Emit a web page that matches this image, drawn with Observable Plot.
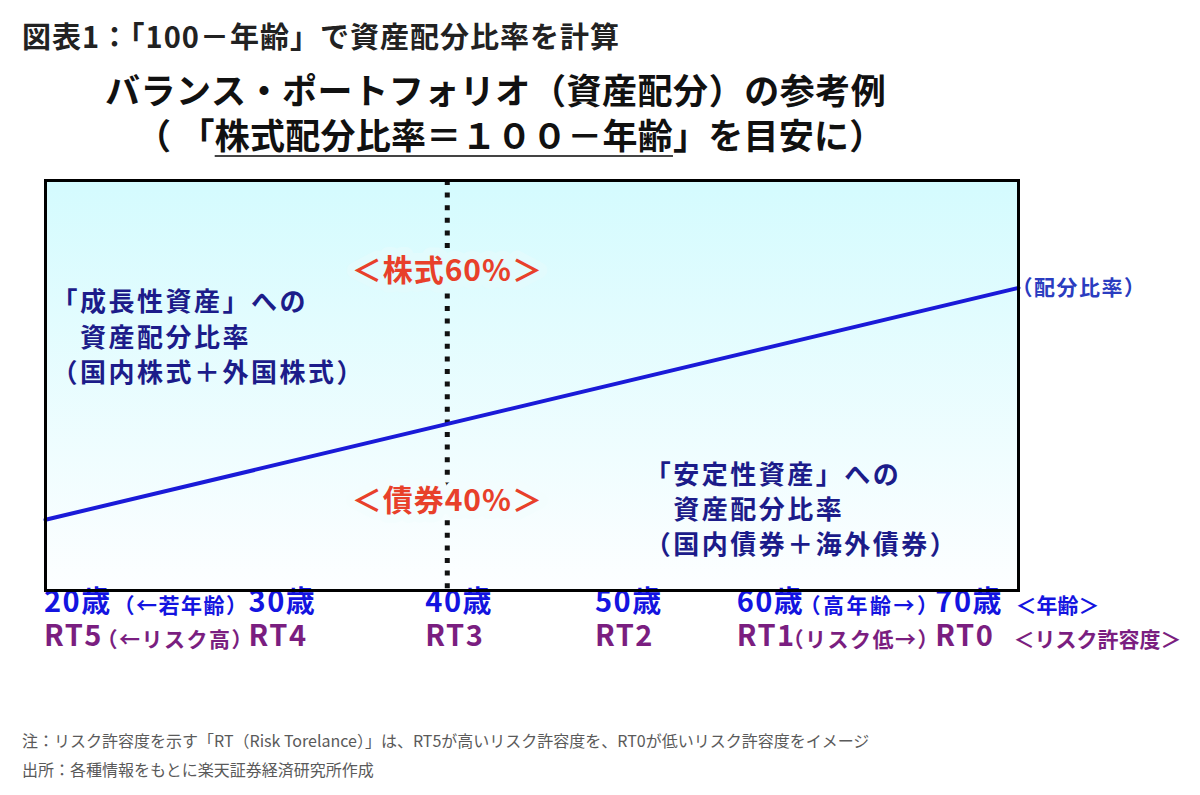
<!DOCTYPE html>
<html><head><meta charset="utf-8">
<script src="https://cdn.jsdelivr.net/npm/d3@7"></script>
<script src="https://cdn.jsdelivr.net/npm/@observablehq/plot@0.6"></script>
<style>
html,body{margin:0;padding:0;background:#fff;}
body{width:1200px;height:795px;position:relative;overflow:hidden;font-family:"Noto Sans CJK JP","Noto Sans",sans-serif;}
.abs{position:absolute;white-space:nowrap;line-height:1;}
#title{left:22px;top:21px;font-size:29px;font-weight:700;color:#222;letter-spacing:1px;}
#sub1{left:105px;top:71px;font-size:35px;font-weight:700;color:#111;letter-spacing:0.55px;}
#sub2{left:136px;top:116px;font-size:35px;font-weight:700;color:#111;letter-spacing:0.25px;}
#sub2 u{text-decoration:underline;text-decoration-thickness:2px;text-underline-offset:6px;text-decoration-color:#444;}
#chart{position:absolute;left:0;top:160px;}
.note{left:22px;font-size:16px;color:#5a5a5a;}
#note1{top:732px;} #note2{top:761px;}
</style></head><body>
<div id="title" class="abs"></div>
<div id="sub1" class="abs"></div>
<div id="sub2" class="abs"></div>
<div id="chart"></div>
<div id="note1" class="abs note"></div>
<div id="note2" class="abs note"></div>
<script>
// ---- data ----
const titleText = "図表1：「100－年齢」で資産配分比率を計算";
const subtitle1 = "バランス・ポートフォリオ（資産配分）の参考例";
const subtitle2 = ["（ 「", "株式配分比率＝１００－年齢", "」を目安に）"];
const noteText = "注：リスク許容度を示す「RT（Risk Torelance）」は、RT5が高いリスク許容度を、RT0が低いリスク許容度をイメージ";
const sourceText = "出所：各種情報をもとに楽天証券経済研究所作成";

const lineAges = [17, 72.7];        // age at left and right edge of the box
const stockPct = [83, 27.3];        // stock share (100 - age)
const splitAge = [40];
const stockLabel = "＜株式60%＞";
const bondLabel = "＜債券40%＞";
const growthLines = ["「成長性資産」への", "　資産配分比率", "（国内株式＋外国株式）"];
const stableLines = ["「安定性資産」への", "　資産配分比率", "（国内債券＋海外債券）"];
const lineLabel = "（配分比率）";

const ageTicks = [20, 30, 40, 50, 60, 70];
const ageLabels = ["20歳", "30歳", "40歳", "50歳", "60歳", "70歳"];
const rtLabels = ["RT5", "RT4", "RT3", "RT2", "RT1", "RT0"];
const ageNotes = ["（←若年齢）", "（高年齢→）", "＜年齢＞"];
const rtNotes = ["（←リスク高）", "（リスク低→）", "＜リスク許容度＞"];

// ---- layout (pixels / annotation anchors) ----
const tickDx = [-54, -24, -22, -27, -60, -36];
const ageNoteDx = [68, 754, 970];
const ageNoteLs = ["1.5px", "2.5px", "0px"];
const rtNoteDx = [51, 737, 968];
const rtNoteLs = ["1.5px", "1.5px", "0px"];
const annot = {
  stock: {x: 40, y: 23.4},
  bond: {x: 40, y: 78.6},
  growth: {x: 17.34, y: 38.7},
  stable: {x: 51.3, y: 80.1}
};

document.getElementById("title").textContent = titleText;
document.getElementById("sub1").textContent = subtitle1;
const s2 = document.getElementById("sub2");
s2.append(subtitle2[0]);
const u = document.createElement("u"); u.textContent = subtitle2[1]; s2.append(u);
s2.append(subtitle2[2]);
document.getElementById("note1").textContent = noteText;
document.getElementById("note2").textContent = sourceText;

const FONT = "Noto Sans CJK JP";
const BLUE = "#1414e0", PURPLE = "#7a1e80", NAVY = "#1c1c8a", RED = "#e8402a";
const lineData = lineAges.map((a, i) => ({age: a, stock: stockPct[i]}));

const marks = [
  Plot.frame({fill: "url(#bgGrad)"}),
  Plot.ruleX(splitAge, {stroke: "#111", strokeWidth: 5, strokeDasharray: "5 7.6"}),
  Plot.line(lineData, {x: "age", y: "stock", stroke: "#1a1ad8", strokeWidth: 4}),
  Plot.text([stockLabel], {x: () => annot.stock.x, y: () => annot.stock.y, text: d => d, fill: RED, fontSize: 30, fontWeight: 700, fontFamily: FONT, stroke: "#e2fbfd", strokeWidth: 16, ariaDescription: "ls1"}),
  Plot.text([bondLabel], {x: () => annot.bond.x, y: () => annot.bond.y, text: d => d, fill: RED, fontSize: 30, fontWeight: 700, fontFamily: FONT, stroke: "#f3fdfe", strokeWidth: 16, ariaDescription: "ls1"}),
  Plot.text([growthLines.join("\n")], {x: () => annot.growth.x, y: () => annot.growth.y, text: d => d, textAnchor: "start", lineHeight: 1.35, fill: NAVY, fontSize: 26, fontWeight: 700, fontFamily: FONT, ariaDescription: "ls25"}),
  Plot.text([stableLines.join("\n")], {x: () => annot.stable.x, y: () => annot.stable.y, text: d => d, textAnchor: "start", lineHeight: 1.35, fill: NAVY, fontSize: 26, fontWeight: 700, fontFamily: FONT, ariaDescription: "ls25"}),
  Plot.text([lineData[lineData.length - 1]], {x: "age", y: "stock", text: () => lineLabel, textAnchor: "start", dx: -7, fill: "#2a3cc0", fontSize: 21, fontWeight: 700, fontFamily: FONT, ariaDescription: "ls15"}),
  ...ageTicks.map((a, i) => Plot.text([a], {x: d => d, text: () => ageLabels[i], frameAnchor: "bottom", textAnchor: "start", dx: tickDx[i], dy: 21, fill: BLUE, fontSize: 29, fontWeight: 700, fontFamily: FONT, ariaDescription: "ls15"})),
  ...ageTicks.map((a, i) => Plot.text([a], {x: d => d, text: () => rtLabels[i], frameAnchor: "bottom", textAnchor: "start", dx: tickDx[i], dy: 55, fill: PURPLE, fontSize: 29, fontWeight: 700, fontFamily: FONT, ariaDescription: "ls15"})),
  ...ageNotes.map((t, i) => Plot.text([t], {text: d => d, frameAnchor: "bottom-left", textAnchor: "start", dx: ageNoteDx[i], dy: 22, fill: BLUE, fontSize: 21, fontWeight: 700, fontFamily: FONT, ariaDescription: "an" + i})),
  ...rtNotes.map((t, i) => Plot.text([t], {text: d => d, frameAnchor: "bottom-left", textAnchor: "start", dx: rtNoteDx[i], dy: 56, fill: PURPLE, fontSize: 21, fontWeight: 700, fontFamily: FONT, ariaDescription: "rn" + i})),
  Plot.frame({stroke: "#000", strokeWidth: 3})
];

const chart = Plot.plot({
  width: 1200, height: 520,
  marginTop: 20, marginBottom: 90, marginLeft: 45, marginRight: 182,
  x: {domain: [lineAges[0], lineAges[1]], axis: null},
  y: {domain: [100, 1.5], axis: null},
  style: {fontFamily: FONT, background: "transparent", overflow: "visible"},
  marks
});
const defs = d3.select(chart).insert("defs", ":first-child");
const g = defs.append("linearGradient").attr("id", "bgGrad").attr("x1", 0).attr("y1", 0).attr("x2", 0).attr("y2", 1);
g.append("stop").attr("offset", "0%").attr("stop-color", "#d4fbfe");
g.append("stop").attr("offset", "100%").attr("stop-color", "#fdfeff");
const spacing = {ls1: "1px", ls15: "1.5px", ls25: "2.5px"};
ageNoteLs.forEach((v, i) => spacing["an" + i] = v);
rtNoteLs.forEach((v, i) => spacing["rn" + i] = v);
for (const [k, v] of Object.entries(spacing)) {
  d3.select(chart).selectAll(`g[aria-description="${k}"]`).style("letter-spacing", v);
}
document.getElementById("chart").append(chart);
</script>
</body></html>
